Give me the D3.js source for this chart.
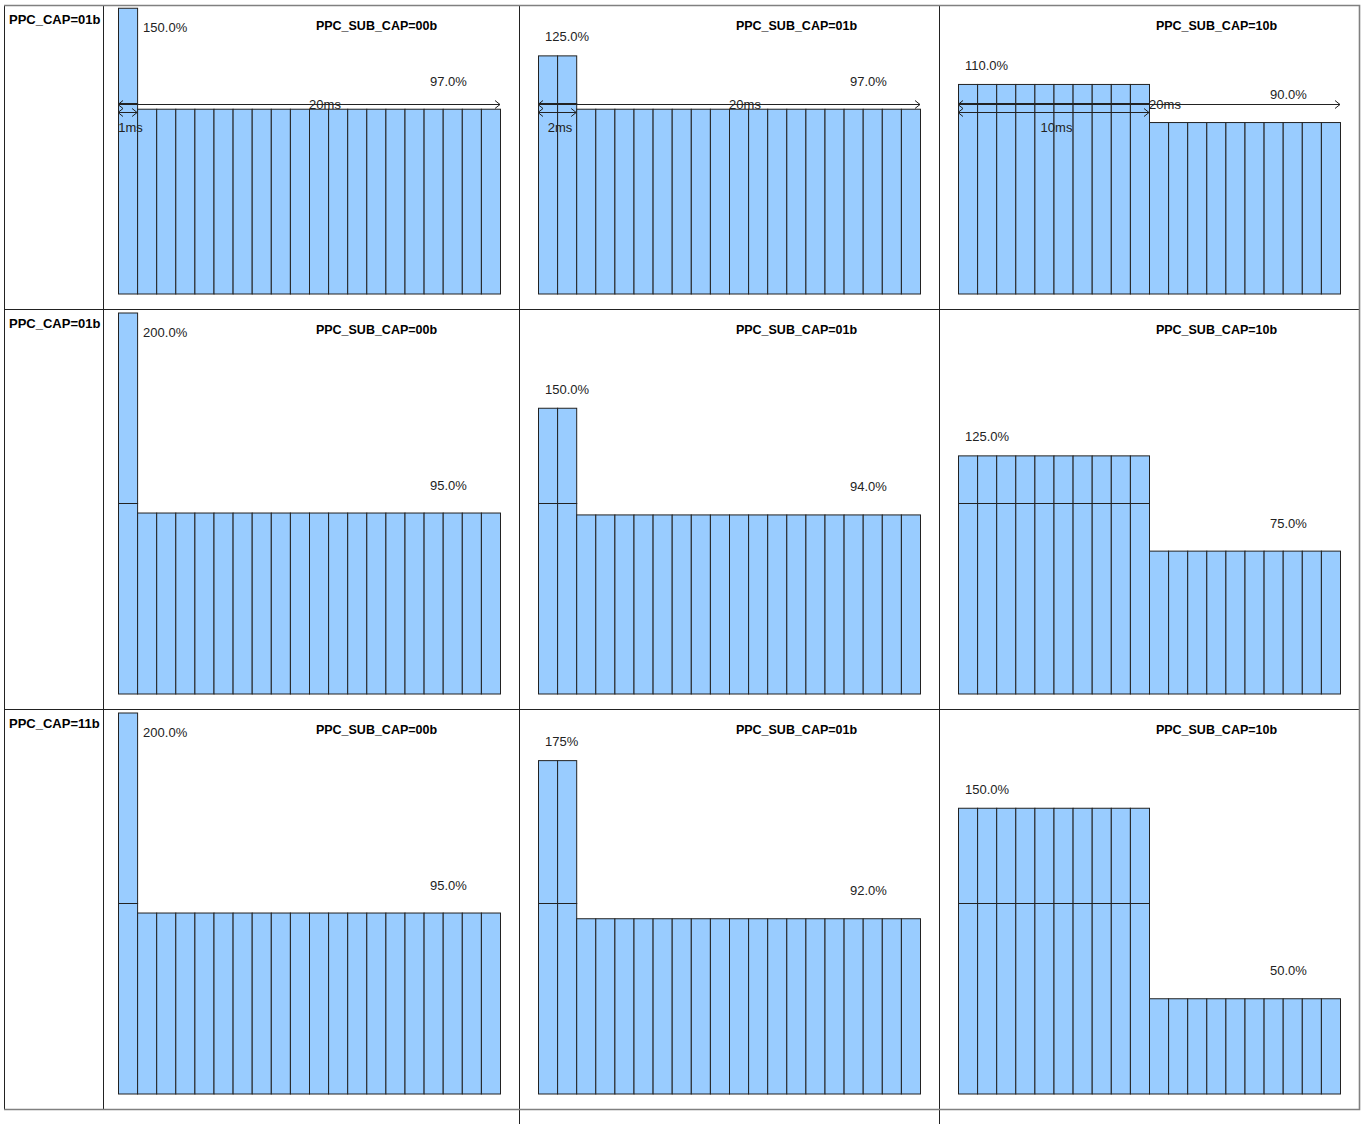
<!DOCTYPE html>
<html>
<head>
<meta charset="utf-8">
<script src="https://cdn.jsdelivr.net/npm/d3@7/dist/d3.min.js"></script>
<style>
    body { margin: 0; background: #fff; }
    svg { display: block; font-family: "Liberation Sans", Arial, sans-serif; }
</style>
</head>
<body>
<main></main>
<script>
// row / column headers
var rowLabels = ["PPC_CAP=01b", "PPC_CAP=01b", "PPC_CAP=11b"];
var colLabels = ["PPC_SUB_CAP=00b", "PPC_SUB_CAP=01b", "PPC_SUB_CAP=10b"];

// each panel: 20 slots of 1ms, the first peakSlots run at the peak level
var totalSlots = 20;
var peakSlots = [1, 2, 10];
var peakValues = [
    [150, 125, 110],
    [200, 150, 125],
    [200, 175, 150]
];
var baseValues = [
    [97, 97, 90],
    [95, 94, 75],
    [95, 92, 50]
];
var peakLabels = [
    ["150.0%", "125.0%", "110.0%"],
    ["200.0%", "150.0%", "125.0%"],
    ["200.0%", "175%", "150.0%"]
];
var baseLabels = [
    ["97.0%", "97.0%", "90.0%"],
    ["95.0%", "94.0%", "75.0%"],
    ["95.0%", "92.0%", "50.0%"]
];
// duration arrows, drawn on the first row only
var spanLabels = ["1ms", "2ms", "10ms"];
var totalLabel = "20ms";

(function () {

    var W = 1365, H = 1124,
        colX = [4, 103, 519, 939, 1359],
        rowY = [5, 309, 709, 1109],
        lineColor = "#222",
        frameColor = "#808080",
        fill = "#99ccff";

    var svg = d3.select("main")
            .append("svg")
            .attr("width", W)
            .attr("height", H);

    // table frame
    var grid = svg.append("g");
    rowY.slice(1, 3).forEach(function (y) {
        grid.append("line")
            .attr("x1", colX[0]).attr("x2", colX[4])
            .attr("y1", y + 0.5).attr("y2", y + 0.5)
            .attr("stroke", lineColor);
    });
    [colX[1], colX[2], colX[3]].forEach(function (x, i) {
        grid.append("line")
            .attr("x1", x + 0.5).attr("x2", x + 0.5)
            .attr("y1", rowY[0]).attr("y2", i === 0 ? rowY[3] : H)
            .attr("stroke", lineColor);
    });
    grid.append("line")
        .attr("x1", colX[0] + 0.5).attr("x2", colX[0] + 0.5)
        .attr("y1", rowY[0]).attr("y2", rowY[3])
        .attr("stroke", lineColor);
    grid.append("path")
        .attr("d", "M" + colX[0] + "," + (rowY[0] + 0.5) +
                   "H" + (colX[4] + 0.5) + "V" + (rowY[3] + 0.5) +
                   "H" + colX[0])
        .attr("fill", "none")
        .attr("stroke", frameColor)
        .attr("stroke-width", 1.6);

    var Arrow = function (g, x1, x2, y) {
        g.append("line")
            .attr("x1", x1).attr("x2", x2)
            .attr("y1", y).attr("y2", y)
            .attr("stroke", lineColor);
        g.append("path")
            .attr("d", "M" + (x1 + 5) + "," + (y - 4) + "L" + x1 + "," + y + "L" + (x1 + 5) + "," + (y + 4) +
                       "M" + (x2 - 5) + "," + (y - 4) + "L" + x2 + "," + y + "L" + (x2 - 5) + "," + (y + 4))
            .attr("fill", "none")
            .attr("stroke", lineColor);
    };

    rowLabels.forEach(function (rowLabel, r) {
        svg.append("text")
            .attr("x", colX[0] + 5)
            .attr("y", rowY[r] + 14)
            .attr("dominant-baseline", "central")
            .attr("font-size", 13)
            .attr("font-weight", "bold")
            .text(rowLabel);

        var baseline = rowY[r + 1] - 15,
            y = d3.scaleLinear()
                .domain([0, 100])
                .range([baseline, baseline - 190.5]);

        colLabels.forEach(function (colLabel, c) {
            var right = colX[c + 2],
                x = d3.scaleLinear()
                    .domain([0, totalSlots])
                    .range([right - 401, right - 19]),
                peak = peakValues[r][c],
                base = baseValues[r][c],
                slots = d3.range(totalSlots).map(function (i) {
                    return {i: i, v: i < peakSlots[c] ? peak : base};
                }),
                g = svg.append("g");

            // lower part of every slot, up to 100%
            g.selectAll("rect.low")
                .data(slots)
                .join("rect")
                .attr("class", "low")
                .attr("x", function (d) { return x(d.i) + 0.5; })
                .attr("width", x(1) - x(0))
                .attr("y", function (d) { return y(Math.min(d.v, 100)); })
                .attr("height", function (d) { return baseline - y(Math.min(d.v, 100)); })
                .attr("fill", fill)
                .attr("stroke", lineColor);

            // part above 100%
            g.selectAll("rect.high")
                .data(slots.filter(function (d) { return d.v > 100; }))
                .join("rect")
                .attr("class", "high")
                .attr("x", function (d) { return x(d.i) + 0.5; })
                .attr("width", x(1) - x(0))
                .attr("y", function (d) { return y(d.v); })
                .attr("height", function (d) { return y(100) - y(d.v); })
                .attr("fill", fill)
                .attr("stroke", lineColor);

            g.append("text")
                .attr("x", right - 142.5)
                .attr("y", rowY[r] + 21)
                .attr("text-anchor", "middle")
                .attr("dominant-baseline", "central")
                .attr("font-size", 12.5)
                .attr("font-weight", "bold")
                .text(colLabel);

            var single = peakSlots[c] === 1;
            g.append("text")
                .attr("x", single ? x(1) + 6 : x(0) + 7)
                .attr("y", single ? y(peak) + 19 : y(peak) - 19)
                .attr("dominant-baseline", "central")
                .attr("font-size", 13)
                .attr("fill", "#222")
                .text(peakLabels[r][c]);

            g.append("text")
                .attr("x", x(totalSlots) - 70)
                .attr("y", y(base) - 28)
                .attr("dominant-baseline", "central")
                .attr("font-size", 13)
                .attr("fill", "#222")
                .text(baseLabels[r][c]);

            if (r === 0) {
                var ay = Math.round(y(100)) + 0.5;
                Arrow(g, x(0), x(totalSlots), ay);
                Arrow(g, x(0), x(peakSlots[c]), ay + 8);
                g.append("text")
                    .attr("x", (x(0) + x(totalSlots)) / 2 + 16)
                    .attr("y", ay)
                    .attr("text-anchor", "middle")
                    .attr("dominant-baseline", "central")
                    .attr("font-size", 13)
                    .attr("fill", "#222")
                    .text(totalLabel);
                g.append("text")
                    .attr("x", (x(0) + x(peakSlots[c])) / 2 + 3)
                    .attr("y", ay + 23)
                    .attr("text-anchor", "middle")
                    .attr("dominant-baseline", "central")
                    .attr("font-size", 13)
                    .attr("fill", "#222")
                    .text(spanLabels[c]);
            }
        });
    });

})();
</script>
</body>
</html>
